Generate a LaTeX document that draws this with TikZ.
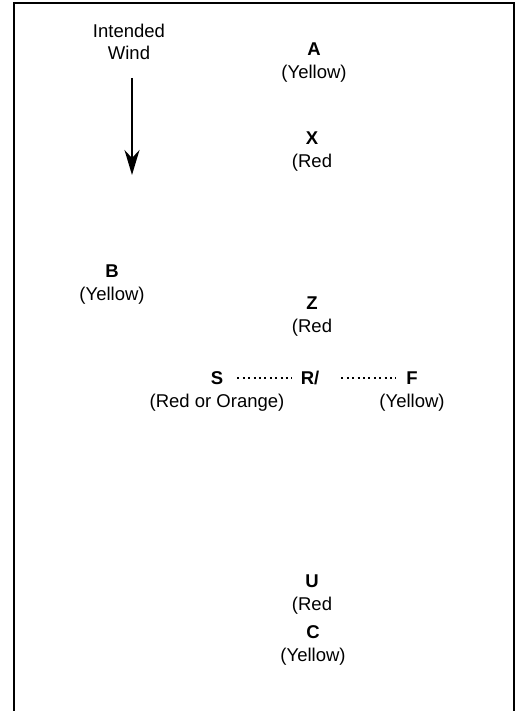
\documentclass[tikz,border=0pt]{standalone}
\usepackage{fontspec}
\setmainfont{Liberation Sans}
\usetikzlibrary{positioning,arrows.meta}
\begin{document}
\begin{tikzpicture}[x=1pt, y=-1pt,
    every node/.style={font=\fontsize{18.5}{22}\selectfont, inner sep=0pt},
    buoy/.style={font=\fontsize{18.5}{22}\selectfont\bfseries},
    dots/.style={line width=2pt, dash pattern=on 2pt off 3.4pt}]
    \useasboundingbox (0,0) rectangle (517,711);
    % frame, open at the bottom
    \draw[line width=2pt] (14,715) -- (14,3) -- (514,3) -- (514,715);
    % wind
    \node[align=center] (wind) at (129,42) {Intended\\Wind};
    \coordinate (wind-top) at (132,78);
    \coordinate (wind-tip) at (132,175);
    \draw[line width=2pt, -{Stealth[length=25pt, width=15pt, inset=8pt]}] (wind-top) -- (wind-tip);
    % marks
    \node[buoy] (A) at (314,49) {A};
    \node[below=9pt of A] (A-col) {(Yellow)};
    \node[buoy] (X) at (312,138) {X};
    \node[below=9pt of X] (X-col) {(Red};
    \node[buoy] (B) at (112,271) {B};
    \node[below=9pt of B] (B-col) {(Yellow)};
    \node[buoy] (Z) at (312,303) {Z};
    \node[below=9pt of Z] (Z-col) {(Red};
    \node[buoy] (S) at (217,378) {S};
    \node[below=9pt of S] (S-col) {(Red or Orange)};
    \node[buoy] (R) at (310,378) {R/};
    \node[buoy] (F) at (412,378) {F};
    \node[below=9pt of F] (F-col) {(Yellow)};
    \node[buoy] (U) at (312,581) {U};
    \node[below=9pt of U] (U-col) {(Red};
    \node[buoy] (C) at (313,632) {C};
    \node[below=9pt of C] (C-col) {(Yellow)};
    % start line
    \draw[dots, shorten <=14pt, shorten >=9pt] (S) -- (R);
    \draw[dots, shorten <=22pt, shorten >=10pt] (R) -- (F);
\end{tikzpicture}
\end{document}
